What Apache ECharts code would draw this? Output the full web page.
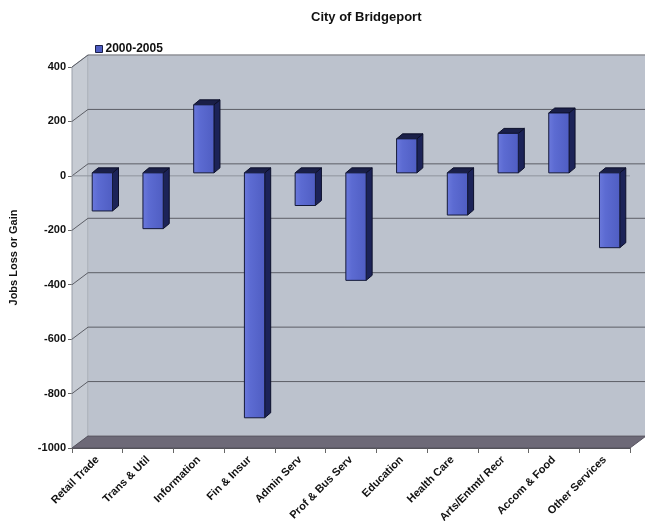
<!DOCTYPE html>
<html>
<head>
<meta charset="utf-8">
<script src="https://cdn.jsdelivr.net/npm/echarts@6/dist/echarts.min.js"></script>
<style>
  html, body { margin: 0; padding: 0; background: #ffffff; }
  #chart { width: 645px; height: 521px; }
</style>
</head>
<body>
<div id="chart"></div>
<script>
// Job change by sector, City of Bridgeport
const categories = ['Retail Trade', 'Trans & Util', 'Information', 'Fin & Insur', 'Admin Serv',
  'Prof & Bus Serv', 'Education', 'Health Care', 'Arts/Entmt/ Recr', 'Accom & Food', 'Other Services'];
const jobChange = [-140, -205, 250, -900, -120, -395, 125, -155, 145, 220, -275];
const yTicks = [-1000, -800, -600, -400, -200, 0, 200, 400];
const seriesName = '2000-2005';

// pseudo-3D geometry (pixels)
const WALL_DX = 16, WALL_DY = -12;     // depth of the box
const BAR_DX = 5, BAR_DY = -3;         // front face of the columns sits inside the box
const SIDE_DX = 6, SIDE_DY = -5;       // column depth
const BAR_RATIO = 0.4;

const FONT = '"Liberation Sans", Arial, sans-serif';
const chart = echarts.init(document.getElementById('chart'));

function wallsItem(params, api) {
  const cs = params.coordSys;
  const left = cs.x, top = cs.y, right = cs.x + cs.width, bottom = cs.y + cs.height;
  const children = [
    { type: 'rect', shape: { x: left + WALL_DX, y: top + WALL_DY, width: cs.width, height: cs.height },
      style: { fill: '#bcc2cd', stroke: '#f4f5f8', lineWidth: 1 } },
    { type: 'polygon', shape: { points: [[left, top], [left + WALL_DX, top + WALL_DY],
        [left + WALL_DX, bottom + WALL_DY], [left, bottom]] },
      style: { fill: '#c6cbd3', stroke: '#9aa0aa', lineWidth: 1 } }
  ];
  yTicks.forEach(function (v) {
    const y = api.coord([0, v])[1];
    if (v === yTicks[0]) return;
    children.push({ type: 'polyline',
      shape: { points: [[left, y], [left + WALL_DX, y + WALL_DY], [right + WALL_DX, y + WALL_DY]] },
      style: { stroke: '#5c5e66', lineWidth: 1, fill: null } });
  });
  // floor
  children.push({ type: 'polygon', shape: { points: [[left, bottom], [left + WALL_DX, bottom + WALL_DY],
      [right + WALL_DX, bottom + WALL_DY], [right, bottom]] },
    style: { fill: '#6d6977', stroke: '#55525e', lineWidth: 1 } });
  // faint category line at zero
  const y0 = api.coord([0, 0])[1];
  children.push({ type: 'line', shape: { x1: left, y1: y0, x2: right, y2: y0 },
    style: { stroke: '#8e939c', lineWidth: 1 } });
  return { type: 'group', children: children };
}

function columnItem(params, api) {
  const i = api.value(0), v = api.value(1);
  const base = api.coord([i, 0]);
  const end = api.coord([i, v]);
  const w = api.size([1, 0])[0] * BAR_RATIO;
  const xl = base[0] - w / 2 + BAR_DX, xr = xl + w;
  const yt = Math.min(base[1], end[1]) + BAR_DY;
  const yb = Math.max(base[1], end[1]) + BAR_DY;
  return {
    type: 'group',
    children: [
      { type: 'polygon', shape: { points: [[xr, yt], [xr + SIDE_DX, yt + SIDE_DY], [xr + SIDE_DX, yb + SIDE_DY], [xr, yb]] },
        style: { fill: '#1c2358', stroke: '#0c0f2a', lineWidth: 1 } },
      { type: 'polygon', shape: { points: [[xl, yt], [xl + SIDE_DX, yt + SIDE_DY], [xr + SIDE_DX, yt + SIDE_DY], [xr, yt]] },
        style: { fill: '#1a1f48', stroke: '#0c0f2a', lineWidth: 1 } },
      { type: 'rect', shape: { x: xl, y: yt, width: w, height: yb - yt },
        style: { fill: new echarts.graphic.LinearGradient(0, 0, 1, 0, [
            { offset: 0, color: '#6b79dc' }, { offset: 0.3, color: '#5c6bd2' }, { offset: 1, color: '#4f5dc2' }]),
          stroke: '#141938', lineWidth: 1 } }
    ]
  };
}

chart.setOption({
  animation: false,
  backgroundColor: '#ffffff',
  title: {
    text: 'City of Bridgeport', left: 306, top: 6,
    textStyle: { fontFamily: FONT, fontSize: 13, fontWeight: 'bold', color: '#111' }
  },
  legend: {
    left: 90, top: 38, itemWidth: 7, itemHeight: 7, itemGap: 4,
    data: [{ name: seriesName, icon: 'rect', itemStyle: { color: '#4f5dc2', borderColor: '#1a1f48', borderWidth: 1 } }],
    textStyle: { fontFamily: FONT, fontSize: 12, fontWeight: 'bold', color: '#111', padding: [0, 0, 0, -2] }
  },
  grid: { left: 72, right: 15, top: 67, bottom: 73, containLabel: false, outerBoundsMode: 'none' },
  xAxis: {
    type: 'category', data: categories, boundaryGap: true,
    axisLine: { onZero: false, lineStyle: { color: '#555', width: 1 } },
    axisTick: { show: true, interval: 0, length: 5, lineStyle: { color: '#666' } },
    axisLabel: { interval: 0, rotate: 45, margin: 10, fontFamily: FONT, fontSize: 11, fontWeight: 'bold', color: '#111' },
    splitLine: { show: false }
  },
  yAxis: {
    type: 'value', min: -1000, max: 400, interval: 200,
    name: 'Jobs Loss or Gain', nameLocation: 'middle', nameGap: 53,
    nameTextStyle: { fontFamily: FONT, fontSize: 11, fontWeight: 'bold', color: '#111' },
    axisLine: { show: true, lineStyle: { color: '#555', width: 1 } },
    axisTick: { show: true, length: 4, lineStyle: { color: '#666' } },
    axisLabel: { margin: 6, fontFamily: FONT, fontSize: 11, fontWeight: 'bold', color: '#111',
      formatter: function (v) { return String(v); } },
    splitLine: { show: false }
  },
  series: [
    { type: 'custom', name: 'walls', silent: true, clip: false, z: 1,
      data: [[0, 0]], renderItem: wallsItem, tooltip: { show: false } },
    { type: 'custom', name: seriesName, clip: false, z: 2,
      itemStyle: { color: '#4f5dc2' },
      data: jobChange.map(function (v, i) { return [i, v]; }),
      renderItem: columnItem }
  ]
});
</script>
</body>
</html>
